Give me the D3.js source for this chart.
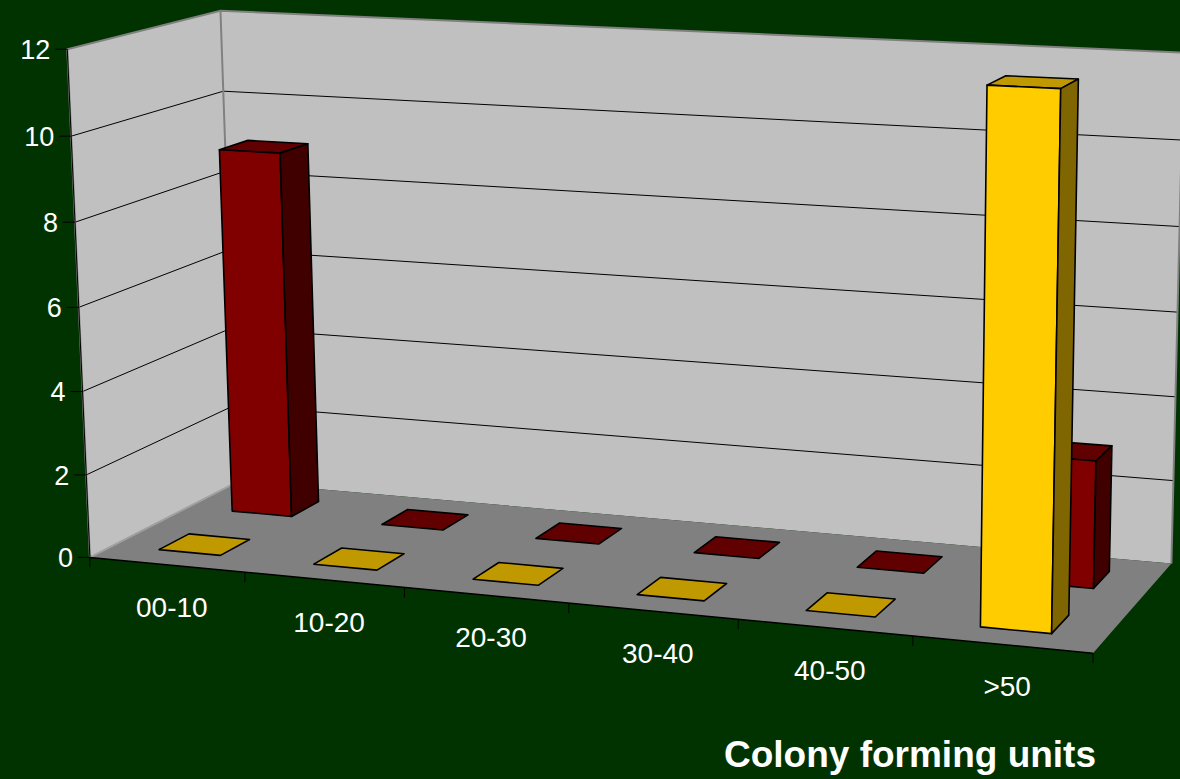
<!DOCTYPE html>
<html>
<head>
<meta charset="utf-8">
<script src="https://cdn.jsdelivr.net/npm/d3@7"></script>
<style>
  html, body { margin: 0; padding: 0; background: #003300; }
  svg { display: block; }
  text { font-family: Arial, "Liberation Sans", sans-serif; fill: #ffffff; }
</style>
</head>
<body>
<div id="chart"></div>
<script>
// --- data ---
const categories = ["00-10", "10-20", "20-30", "30-40", "40-50", ">50"];
const seriesNames = ["Series 1", "Series 2"];      // front row, back row
const series1 = [0, 0, 0, 0, 0, 12];               // yellow (front)
const series2 = [9, 0, 0, 0, 0, 3];                // dark red (back)
const yTicks = [0, 2, 4, 6, 8, 10, 12];
const axisTitle = "Colony forming units";

const width = 1180, height = 779;

// world scales: categories along X, series along depth Z, values along Y
const x = d3.scaleBand().domain(categories).range([0, 6]).paddingInner(0.6).paddingOuter(0.3);
const z = d3.scaleBand().domain(seriesNames).range([0, 1]).paddingInner(0.6).paddingOuter(0.3);
const y = d3.scaleLinear().domain([0, 12]).range([0, 1]);

const colors = {
  "Series 1": { front: "#ffcc00", top: "#c09900", side: "#806600" },
  "Series 2": { front: "#800000", top: "#600000", side: "#400000" }
};

// where the plot box lands on screen: [X, value, Z, px, py]
const anchors = [
  [0, 0, 0, 92, 557], [6, 0, 0, 1093, 654], [0, 0, 1, 232, 483], [6, 0, 1, 1172, 563],
  [0, 12, 0, 65, 49], [0, 12, 1, 223, 10], [6, 12, 1, 1183, 52], [0, 10, 1, 226, 92],
  [1, 0, 0, 246, 572], [2, 0, 0, 406, 587], [3, 0, 0, 568, 603], [4, 0, 0, 739, 620], [5, 0, 0, 912, 636],
  [0, 2, 0, 87, 473], [0, 4, 0, 83, 392], [0, 6, 0, 79, 307], [0, 8, 0, 74, 223], [0, 10, 0, 69, 137]
];

// least squares fit of a perspective camera (DLT)
function fitCamera(pts) {
  const s = 1000, A = [], b = [];
  pts.forEach(([X, V, Z, pu, pv]) => {
    const Y = y(V), u = pu / s, v = pv / s;
    A.push([X, Y, Z, 1, 0, 0, 0, 0, -u * X, -u * Y, -u * Z]); b.push(u);
    A.push([0, 0, 0, 0, X, Y, Z, 1, -v * X, -v * Y, -v * Z]); b.push(v);
  });
  const n = 11;
  const M = d3.range(n).map(i => d3.range(n).map(j => d3.sum(A, r => r[i] * r[j])));
  const r = d3.range(n).map(i => d3.sum(A, (row, k) => row[i] * b[k]));
  for (let c = 0; c < n; c++) {
    let p = c;
    for (let k = c + 1; k < n; k++) if (Math.abs(M[k][c]) > Math.abs(M[p][c])) p = k;
    [M[c], M[p]] = [M[p], M[c]]; [r[c], r[p]] = [r[p], r[c]];
    for (let k = c + 1; k < n; k++) {
      const f = M[k][c] / M[c][c];
      for (let j = c; j < n; j++) M[k][j] -= f * M[c][j];
      r[k] -= f * r[c];
    }
  }
  const p = new Array(n);
  for (let c = n - 1; c >= 0; c--) {
    let t = r[c];
    for (let j = c + 1; j < n; j++) t -= M[c][j] * p[j];
    p[c] = t / M[c][c];
  }
  return { p, s };
}

const cam = fitCamera(anchors);
const P = cam.p;

function project(X, Y, Z) {
  const w = P[8] * X + P[9] * Y + P[10] * Z + 1;
  return [cam.s * (P[0] * X + P[1] * Y + P[2] * Z + P[3]) / w,
          cam.s * (P[4] * X + P[5] * Y + P[6] * Z + P[7]) / w];
}

// camera centre (null space of P)
const eye = (() => {
  const m = [[P[0], P[1], P[2]], [P[4], P[5], P[6]], [P[8], P[9], P[10]]];
  const t = [-P[3], -P[7], -1];
  const det = a => a[0][0] * (a[1][1] * a[2][2] - a[1][2] * a[2][1])
    - a[0][1] * (a[1][0] * a[2][2] - a[1][2] * a[2][0])
    + a[0][2] * (a[1][0] * a[2][1] - a[1][1] * a[2][0]);
  const D = det(m);
  return [0, 1, 2].map(c => det(m.map((row, i) => row.map((v, j) => j === c ? t[i] : v))) / D);
})();

const poly = pts => "M" + pts.map(q => project(...q).join(",")).join("L") + "Z";

const svg = d3.select("#chart").append("svg")
  .attr("width", width).attr("height", height);

svg.append("rect").attr("width", width).attr("height", height).attr("fill", "#003300");

const X1 = x.range()[1], Ytop = y(12);

// walls and floor
svg.append("path").attr("d", poly([[0, 0, 0], [0, 0, 1], [0, Ytop, 1], [0, Ytop, 0]])).attr("fill", "#c0c0c0");
svg.append("path").attr("d", poly([[0, 0, 1], [X1, 0, 1], [X1, Ytop, 1], [0, Ytop, 1]])).attr("fill", "#c0c0c0");
svg.append("path").attr("d", poly([[0, 0, 0], [X1, 0, 0], [X1, 0, 1], [0, 0, 1]])).attr("fill", "#808080");

// gridlines
const line = pts => "M" + pts.map(q => project(...q).join(",")).join("L");
svg.append("g").selectAll("path")
  .data(yTicks.filter(v => v > 0 && v < 12))
  .join("path")
  .attr("d", v => line([[0, y(v), 0], [0, y(v), 1], [X1, y(v), 1]]))
  .attr("fill", "none").attr("stroke", "#000").attr("stroke-width", 1);

// wall borders
svg.append("path")
  .attr("d", line([[0, 0, 0], [0, Ytop, 0], [0, Ytop, 1], [X1, Ytop, 1], [X1, 0, 1]]) + line([[0, 0, 1], [0, Ytop, 1]]))
  .attr("fill", "none").attr("stroke", "#808080").attr("stroke-width", 2);
svg.append("path")
  .attr("d", line([[0, 0, 0], [0, 0, 1]]))
  .attr("fill", "none").attr("stroke", "#a0a0a0").attr("stroke-width", 2);

// value axis
svg.append("path").attr("d", line([[0, 0, 0], [0, Ytop, 0]]))
  .attr("stroke", "#000").attr("stroke-width", 1).attr("fill", "none");
const yAxis = svg.append("g");
yTicks.forEach(v => {
  const [px, py] = project(0, y(v), 0);
  yAxis.append("line").attr("x1", px - 12).attr("x2", px).attr("y1", py).attr("y2", py)
    .attr("stroke", "#000").attr("stroke-width", 1);
  yAxis.append("text").attr("x", px - 17).attr("y", py).attr("dy", "0.36em")
    .attr("text-anchor", "end").attr("font-size", 27).text(v);
});

// category axis
svg.append("path").attr("d", line([[0, 0, 0], [X1, 0, 0]]))
  .attr("stroke", "#000").attr("stroke-width", 1.5).attr("fill", "none");
const xAxis = svg.append("g");
d3.range(categories.length + 1).forEach(i => {
  const [px, py] = project(i * x.step(), 0, 0);
  xAxis.append("line").attr("x1", px).attr("x2", px).attr("y1", py).attr("y2", py + 10)
    .attr("stroke", "#000").attr("stroke-width", 1);
});
categories.forEach(c => {
  const [px, py] = project(x(c) + x.bandwidth() / 2, 0, 0);
  xAxis.append("text").attr("x", px + 5).attr("y", py + 52)
    .attr("text-anchor", "middle").attr("font-size", 28).text(c);
});

// bars, back row first
const rows = [
  { name: "Series 2", values: series2 },
  { name: "Series 1", values: series1 }
];

const barLayer = svg.append("g")
  .attr("stroke", "#000").attr("stroke-width", 1.6).attr("stroke-linejoin", "round");

rows.forEach(row => {
  row.values.forEach((val, i) => {
    const xa = x(categories[i]), xb = xa + x.bandwidth();
    const za = z(row.name), zb = za + z.bandwidth();
    const h = y(val);
    const col = colors[row.name];
    const faces = [
      { n: [0, 1, 0], q: [xa, h, za], pts: [[xa, h, za], [xb, h, za], [xb, h, zb], [xa, h, zb]], fill: col.top }
    ];
    if (val > 0) {
      faces.push(
        { n: [0, 0, -1], q: [xa, 0, za], pts: [[xa, 0, za], [xb, 0, za], [xb, h, za], [xa, h, za]], fill: col.front },
        { n: [0, 0, 1], q: [xa, 0, zb], pts: [[xa, 0, zb], [xb, 0, zb], [xb, h, zb], [xa, h, zb]], fill: col.front },
        { n: [-1, 0, 0], q: [xa, 0, za], pts: [[xa, 0, za], [xa, 0, zb], [xa, h, zb], [xa, h, za]], fill: col.side },
        { n: [1, 0, 0], q: [xb, 0, za], pts: [[xb, 0, za], [xb, 0, zb], [xb, h, zb], [xb, h, za]], fill: col.side }
      );
    }
    faces
      .filter(f => d3.sum([0, 1, 2], k => (eye[k] - f.q[k]) * f.n[k]) > 0)
      .forEach(f => barLayer.append("path").attr("d", poly(f.pts)).attr("fill", f.fill));
  });
});

// axis title
svg.append("text").attr("x", 910).attr("y", 767)
  .attr("text-anchor", "middle").attr("font-size", 37).attr("font-weight", "bold")
  .text(axisTitle);
</script>
</body>
</html>
